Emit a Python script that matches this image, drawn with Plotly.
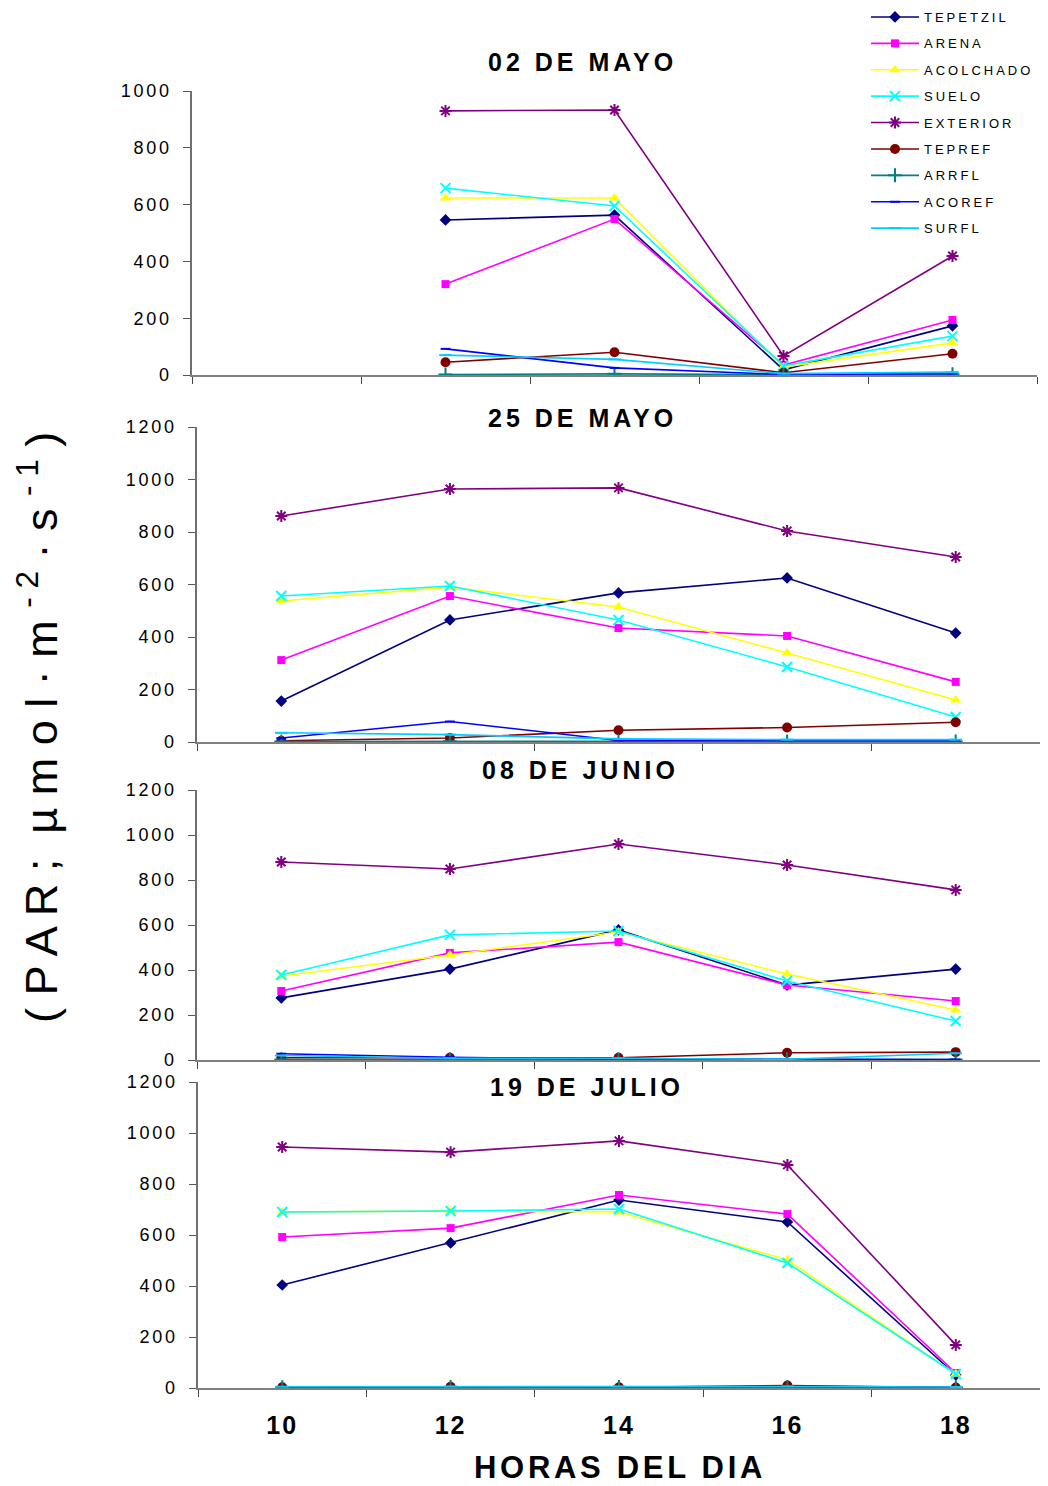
import plotly.graph_objects as go

hours = [10, 12, 14, 16, 18]
hour_labels = ["10", "12", "14", "16", "18"]
panel_titles = ["02 DE MAYO", "25 DE MAYO", "08 DE JUNIO", "19 DE JULIO"]
series_names = ["TEPETZIL", "ARENA", "ACOLCHADO", "SUELO", "EXTERIOR",
                "TEPREF", "ARRFL", "ACOREF", "SURFL"]

# 02 DE MAYO (no reading at 10 h)
mayo02_tepetzil = [None, 546, 563, 18, 173]
mayo02_arena = [None, 320, 549, 35, 194]
mayo02_acolchado = [None, 623, 623, 28, 113]
mayo02_suelo = [None, 658, 595, 32, 137]
mayo02_exterior = [None, 930, 933, 67, 419]
mayo02_tepref = [None, 45, 80, 8, 75]
mayo02_arrfl = [None, 2, 4, 1, 3]
mayo02_acoref = [None, 92, 25, 2, 5]
mayo02_surfl = [None, 70, 55, 5, 10]

# 25 DE MAYO
mayo25_tepetzil = [156, 465, 568, 625, 415]
mayo25_arena = [312, 556, 434, 404, 229]
mayo25_acolchado = [537, 590, 514, 339, 160]
mayo25_suelo = [556, 594, 465, 286, 95]
mayo25_exterior = [861, 964, 968, 804, 705]
mayo25_tepref = [5, 15, 45, 55, 75]
mayo25_arrfl = [2, 3, 3, 2, 2]
mayo25_acoref = [15, 78, 6, 5, 6]
mayo25_surfl = [35, 28, 12, 9, 9]

# 08 DE JUNIO
junio08_tepetzil = [276, 404, 578, 333, 404]
junio08_arena = [307, 476, 524, 333, 262]
junio08_acolchado = [373, 467, 569, 382, 222]
junio08_suelo = [378, 556, 573, 351, 173]
junio08_exterior = [880, 849, 960, 867, 756]
junio08_tepref = [10, 10, 10, 32, 35]
junio08_arrfl = [2, 3, 3, 3, 2]
junio08_acoref = [28, 12, 3, 2, 2]
junio08_surfl = [20, 8, 8, 3, 30]

# 19 DE JULIO
julio19_tepetzil = [404, 569, 737, 651, 51]
julio19_arena = [592, 627, 757, 682, 59]
julio19_acolchado = [690, 694, 690, 502, 55]
julio19_suelo = [690, 694, 702, 490, 55]
julio19_exterior = [945, 925, 969, 875, 169]
julio19_tepref = [3, 5, 3, 10, 2]
julio19_arrfl = [3, 4, 4, 4, 3]
julio19_acoref = [4, 5, 5, 5, 3]
julio19_surfl = [5, 6, 6, 6, 4]

panels = [
    [mayo02_tepetzil, mayo02_arena, mayo02_acolchado, mayo02_suelo, mayo02_exterior,
     mayo02_tepref, mayo02_arrfl, mayo02_acoref, mayo02_surfl],
    [mayo25_tepetzil, mayo25_arena, mayo25_acolchado, mayo25_suelo, mayo25_exterior,
     mayo25_tepref, mayo25_arrfl, mayo25_acoref, mayo25_surfl],
    [junio08_tepetzil, junio08_arena, junio08_acolchado, junio08_suelo, junio08_exterior,
     junio08_tepref, junio08_arrfl, junio08_acoref, junio08_surfl],
    [julio19_tepetzil, julio19_arena, julio19_acolchado, julio19_suelo, julio19_exterior,
     julio19_tepref, julio19_arrfl, julio19_acoref, julio19_surfl],
]

styles = [
    dict(color="#000080", symbol="diamond", size=9),
    dict(color="#FF00FF", symbol="square", size=8),
    dict(color="#FFFF00", symbol="triangle-up", size=10),
    dict(color="#00FFFF", symbol="x-thin-open", size=10),
    dict(color="#800080", symbol="asterisk-open", size=10),
    dict(color="#800000", symbol="circle", size=10),
    dict(color="#008080", symbol="cross-thin-open", size=10),
    dict(color="#0000FF", symbol="line-ew-open", size=7),
    dict(color="#00CCFF", symbol="line-ew-open", size=9),
]

# page body adds an 8px offset; figure sized to reach the window edges
OFF = 8
W, H = 1048 - 2 * OFF, 1486 - OFF
# target screen geometry of each panel: (left, right, top, bottom, ymax)
geom = [
    (192, 1037, 91, 375, 1000),
    (197, 1040, 427, 742, 1200),
    (197, 1040, 790, 1060, 1200),
    (198, 1040, 1082, 1388, 1200),
]
title_pos = [(582, 62), (582, 418), (580, 770), (587, 1087)]

FONT = "Liberation Sans, Arial, sans-serif"


def px(xs):
    return (xs - OFF) / W


def py(ys):
    return (H - (ys - OFF)) / H


def spaced(txt, sp):
    return "<span style='letter-spacing:%spx'>%s</span>" % (sp, txt)


fig = go.Figure()

for p, vals in enumerate(panels):
    ax = "" if p == 0 else str(p + 1)
    for i, (name, v) in enumerate(zip(series_names, vals)):
        st = styles[i]
        open_sym = st["symbol"].endswith("open")
        fig.add_trace(go.Scatter(
            x=hours, y=v, name=spaced(name, 3.0), mode="lines+markers",
            xaxis="x" + ax, yaxis="y" + ax,
            line=dict(color=st["color"], width=1.6),
            marker=dict(symbol=st["symbol"], size=st["size"], color=st["color"],
                        line=dict(color=st["color"], width=2 if open_sym else 0)),
            showlegend=(p == 0), legendgroup=name, connectgaps=False,
        ))

layout = dict(width=W, height=H, autosize=False,
              margin=dict(l=0, r=0, t=0, b=0, pad=0, autoexpand=False),
              paper_bgcolor="white", plot_bgcolor="white",
              font=dict(family=FONT, color="black"))

for p, (l, r, t, b, ymax) in enumerate(geom):
    ax = "" if p == 0 else str(p + 1)
    last = (p == 3)
    yt = list(range(0, ymax + 1, 200))
    layout["xaxis" + ax] = dict(
        domain=[px(l), px(r)], anchor="y" + ax, range=[9, 19],
        showline=True, linecolor="#808080", linewidth=1.5,
        showgrid=False, zeroline=False, automargin=False,
        tickvals=hours, ticktext=["<b>" + spaced(h, 2) + "</b>" for h in hour_labels],
        ticks="", showticklabels=last,
        tickfont=dict(size=25, family=FONT, color="black"),
        ticklabelstandoff=14,
        minor=dict(tickvals=[9, 11, 13, 15, 17, 19], ticks="outside",
                   ticklen=7, tickcolor="#444444", tickwidth=1),
        fixedrange=True,
    )
    layout["yaxis" + ax] = dict(
        domain=[py(b), py(t)], anchor="x" + ax,
        range=[0, ymax], tickvals=yt, ticktext=[spaced(v, 2.7) for v in yt],
        showline=True, linecolor="#707070", linewidth=1.5,
        showgrid=False, zeroline=False, automargin=False,
        ticks="outside", ticklen=7, tickcolor="#555555",
        tickfont=dict(size=18, family=FONT, color="black"),
        ticklabelstandoff=8, fixedrange=True,
    )

annotations = []
for (tx, ty), txt in zip(title_pos, panel_titles):
    annotations.append(dict(x=px(tx), y=py(ty), xref="paper", yref="paper",
                            text="<b>" + spaced(txt, 4) + "</b>", showarrow=False,
                            font=dict(size=25, family=FONT, color="black"),
                            xanchor="center", yanchor="middle"))
annotations.append(dict(x=px(620), y=py(1467), xref="paper", yref="paper",
                        text="<b>" + spaced("HORAS DEL DIA", 3.7) + "</b>", showarrow=False,
                        font=dict(size=31, family=FONT, color="black"),
                        xanchor="center", yanchor="middle"))
annotations.append(dict(x=px(38), y=py(728), xref="paper", yref="paper",
                        text="( P A R ;  µ m o l · m <sup>- 2</sup> · s <sup>- 1</sup> )",
                        textangle=-90, showarrow=False,
                        font=dict(size=45, family=FONT, color="black"),
                        xanchor="center", yanchor="middle"))
layout["annotations"] = annotations

layout["legend"] = dict(x=px(866), y=py(2), xanchor="left", yanchor="top",
                        font=dict(size=13, family=FONT, color="black"),
                        bgcolor="rgba(0,0,0,0)", tracegroupgap=6.5,
                        itemwidth=48)

fig.update_layout(**layout)
fig.write_html("out.html")
